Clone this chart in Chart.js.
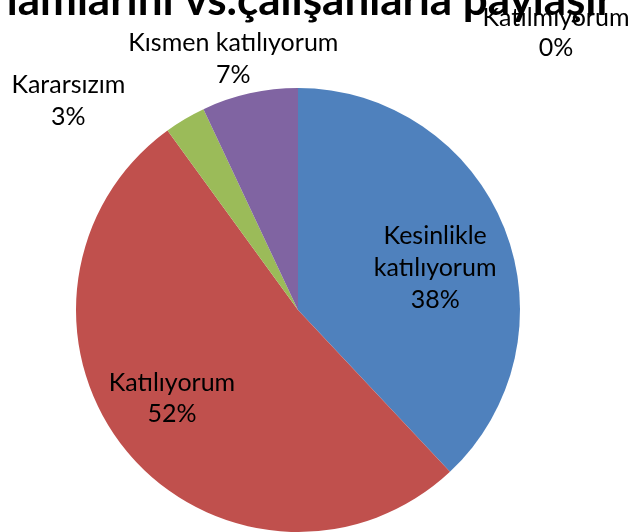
<!DOCTYPE html>
<html>
<head>
<meta charset="utf-8">
<script src="https://cdn.jsdelivr.net/npm/chart.js@4"></script>
<style>
  html, body { margin: 0; padding: 0; background: #fff; }
  #wrap { width: 629px; height: 532px; }
</style>
</head>
<body>
<div id="wrap"><canvas id="pieChart" width="629" height="532"></canvas></div>
<script>
// data
var titleText = 'lamlarını vs.çalışanlarla paylaşır';
var categories = ['Kesinlikle katılıyorum', 'Katılıyorum', 'Kararsızım', 'Kısmen katılıyorum', 'Katılmıyorum'];
var percents = [38, 52, 3, 7, 0];
var labelLines = [['Kesinlikle', 'katılıyorum'], ['Katılıyorum'], ['Kararsızım'], ['Kısmen katılıyorum'], ['Katılmıyorum']];

var colors = ['#4F81BD', '#C0504D', '#9BBB59', '#8064A2', '#4BACC6'];
// label placement: radius factor along the slice's mid angle, plus a small nudge (px)
var labelRadius = [0.65, 0.69, 1.2, 1.17, 1.0];
var labelNudge = [[3, -21], [-8, -25], [-94, 4], [-8, -14], [258, -70]];
var labelGap = [32, 31, 32, 32, 30];

var labelFont = '25px Lato';

var pieLabels = {
  id: 'pieLabels',
  afterDatasetsDraw: function(chart) {
    var ctx = chart.ctx;
    var meta = chart.getDatasetMeta(0);
    ctx.save();
    ctx.font = labelFont;
    ctx.fillStyle = '#000';
    ctx.textAlign = 'center';
    ctx.textBaseline = 'middle';
    meta.data.forEach(function(arc, i) {
      var p = arc.getProps(['x', 'y', 'startAngle', 'endAngle', 'outerRadius'], true);
      var mid = (p.startAngle + p.endAngle) / 2;
      var r = p.outerRadius * labelRadius[i];
      var x = p.x + Math.cos(mid) * r + labelNudge[i][0];
      var y = p.y + Math.sin(mid) * r + labelNudge[i][1];
      var lines = labelLines[i].concat([percents[i] + '%']);
      lines.forEach(function(t, k) {
        ctx.fillText(t, x, y + k * labelGap[i]);
      });
    });
    ctx.restore();
  }
};

// only the last line of the title is visible at the top edge
var topTitle = {
  id: 'topTitle',
  afterDraw: function(chart) {
    var ctx = chart.ctx;
    ctx.save();
    ctx.font = 'bold 44px Lato';
    ctx.fillStyle = '#000';
    ctx.textAlign = 'right';
    ctx.textBaseline = 'alphabetic';
    ctx.fillText(titleText, 613, 15);
    ctx.restore();
  }
};

var ctxPie = document.getElementById('pieChart').getContext('2d');
var pieChart = new Chart(ctxPie, {
  type: 'pie',
  data: {
    labels: categories,
    datasets: [{
      data: percents,
      backgroundColor: colors,
      borderWidth: 0
    }]
  },
  options: {
    responsive: false,
    animation: false,
    layout: {
      padding: { left: 76, right: 109, top: 88, bottom: 0 }
    },
    plugins: {
      legend: { display: false },
      title: { display: false },
      tooltip: { enabled: false }
    }
  },
  plugins: [pieLabels, topTitle]
});
</script>
</body>
</html>
